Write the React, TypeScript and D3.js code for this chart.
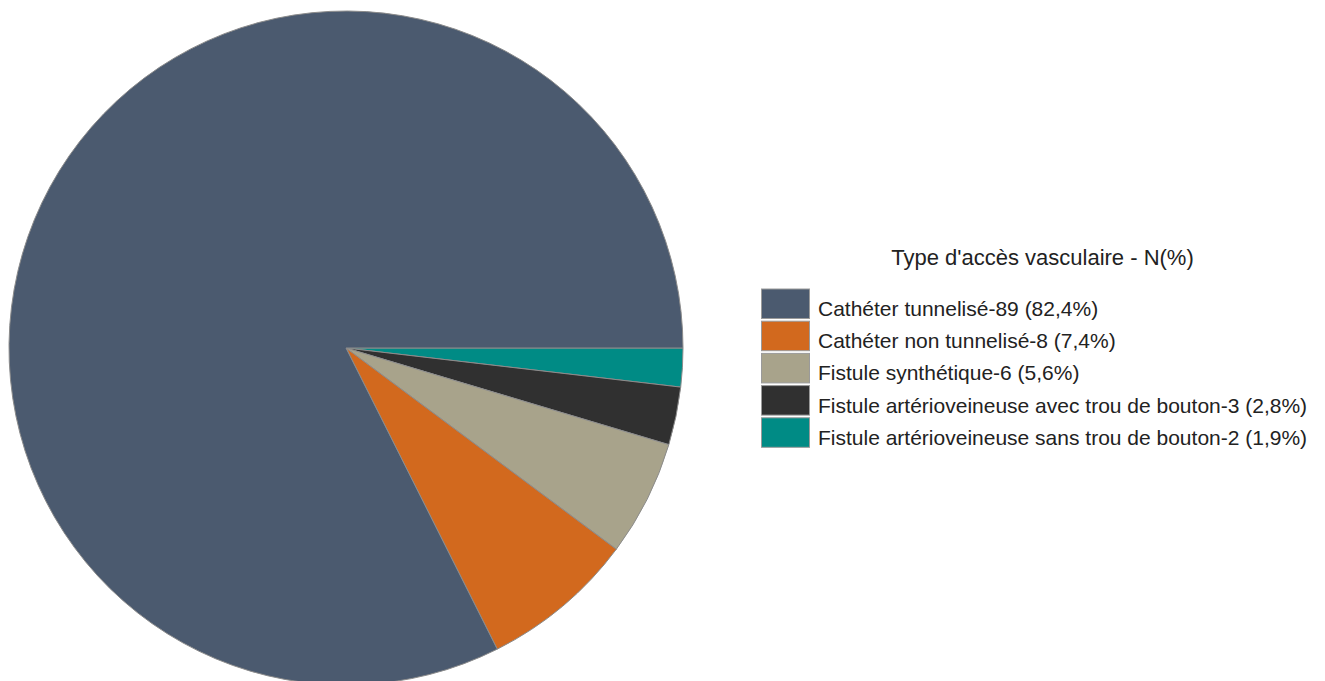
import React from "react";
import * as d3 from "d3";

const categories = [
  "Cathéter tunnelisé",
  "Cathéter non tunnelisé",
  "Fistule synthétique",
  "Fistule artérioveineuse avec trou de bouton",
  "Fistule artérioveineuse sans trou de bouton",
];
const counts = [89, 8, 6, 3, 2];
const percentLabels = ["82,4%", "7,4%", "5,6%", "2,8%", "1,9%"];
const colors = ["#4b5a6f", "#d2691e", "#a8a38b", "#303030", "#008b85"];
const legendTitle = "Type d'accès vasculaire - N(%)";

export default function App() {
  const width = 1325;
  const height = 681;
  const cx = 346;
  const cy = 348;
  const r = 337;

  const data = categories.map((c, i) => ({ c, v: counts[i], i }));
  // Slices drawn clockwise from 3 o'clock, starting with the last category
  const pie = d3
    .pie<any>()
    .sort(null)
    .value((d) => d.v)
    .startAngle(Math.PI / 2)
    .endAngle(Math.PI / 2 + 2 * Math.PI);
  const arcs = pie([...data].reverse());
  const arc = d3.arc<any>().innerRadius(0).outerRadius(r);

  const lx = 761;
  const ly = 288.5;
  const step = 32.2;
  const font = "Liberation Sans, Arial, sans-serif";

  return (
    <svg
      width={width}
      height={height}
      style={{ position: "absolute", left: 0, top: 0, background: "#fff" }}
    >
      <g transform={`translate(${cx},${cy})`}>
        {arcs.map((a: any) => (
          <path
            key={a.data.i}
            d={arc(a) as string}
            fill={colors[a.data.i]}
            stroke="#8c8c8c"
            strokeWidth={1}
          />
        ))}
      </g>
      <text
        x={1042.5}
        y={265}
        textAnchor="middle"
        fontFamily={font}
        fontSize={22}
        fill="#222"
      >
        {legendTitle}
      </text>
      {categories.map((c, i) => (
        <g key={c} transform={`translate(${lx},${ly + i * step})`}>
          <rect
            x={0.5}
            y={0.5}
            width={48}
            height={29.5}
            fill={colors[i]}
            stroke="#9a9a9a"
            strokeWidth={1}
          />
          <text
            x={57}
            y={27.5}
            fontFamily={font}
            fontSize={21}
            fill="#222"
          >
            {`${c}-${counts[i]} (${percentLabels[i]})`}
          </text>
        </g>
      ))}
    </svg>
  );
}
